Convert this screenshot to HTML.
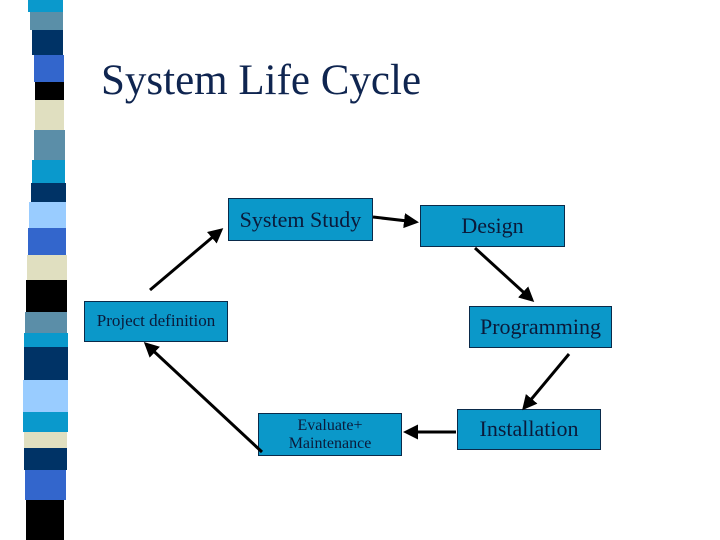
<!DOCTYPE html>
<html><head><meta charset="utf-8"><style>
body{margin:0;width:720px;height:540px;background:#fff;position:relative;overflow:hidden;font-family:"Liberation Serif",serif}
.s{position:absolute;left:27px;width:40px}
.b{position:absolute;background:#0b98c9;border:1px solid #0a2a4a;box-sizing:border-box;color:#0b1a3a;text-align:center;display:flex;align-items:center;justify-content:center;line-height:1.1}
</style></head><body>
<div class="s" style="top:0;height:12px;background:#0a99cc;left:28px;width:35px"></div>
<div class="s" style="top:12px;height:18px;background:#5a8fa8;left:30px;width:33px"></div>
<div class="s" style="top:30px;height:25px;background:#003366;left:32px;width:31px"></div>
<div class="s" style="top:55px;height:27px;background:#3366cc;left:34px;width:30px"></div>
<div class="s" style="top:82px;height:18px;background:#000;left:35px;width:29px"></div>
<div class="s" style="top:100px;height:30px;background:#e0dfc0;left:35px;width:29px"></div>
<div class="s" style="top:130px;height:30px;background:#5b8ea8;left:34px;width:31px"></div>
<div class="s" style="top:160px;height:23px;background:#0a99cc;left:32px;width:33px"></div>
<div class="s" style="top:183px;height:19px;background:#003366;left:31px;width:35px"></div>
<div class="s" style="top:202px;height:26px;background:#99ccff;left:29px;width:37px"></div>
<div class="s" style="top:228px;height:27px;background:#3366cc;left:28px;width:38px"></div>
<div class="s" style="top:255px;height:25px;background:#e0dfc0;left:27px;width:40px"></div>
<div class="s" style="top:280px;height:32px;background:#000;left:26px;width:41px"></div>
<div class="s" style="top:312px;height:21px;background:#5b8ea8;left:25px;width:42px"></div>
<div class="s" style="top:333px;height:14px;background:#0a99cc;left:24px;width:44px"></div>
<div class="s" style="top:347px;height:33px;background:#003366;left:24px;width:44px"></div>
<div class="s" style="top:380px;height:32px;background:#99ccff;left:23px;width:45px"></div>
<div class="s" style="top:412px;height:20px;background:#0a99cc;left:23px;width:45px"></div>
<div class="s" style="top:432px;height:16px;background:#e0dfc0;left:24px;width:43px"></div>
<div class="s" style="top:448px;height:22px;background:#003366;left:24px;width:43px"></div>
<div class="s" style="top:470px;height:30px;background:#3366cc;left:25px;width:41px"></div>
<div class="s" style="top:500px;height:40px;background:#000;left:26px;width:38px"></div>

<div style="position:absolute;left:101px;top:56px;font-size:43px;color:#0f2550">System Life Cycle</div>

<div class="b" style="left:228px;top:198px;width:145px;height:43px;font-size:22px;align-items:flex-start;padding-top:9px">System Study</div>
<div class="b" style="left:420px;top:205px;width:145px;height:42px;font-size:22px">Design</div>
<div class="b" style="left:84px;top:301px;width:144px;height:41px;font-size:17px;align-items:flex-start;padding-top:10px">Project definition</div>
<div class="b" style="left:469px;top:306px;width:143px;height:42px;font-size:22px">Programming</div>
<div class="b" style="left:258px;top:413px;width:144px;height:43px;font-size:16px">Evaluate+<br>Maintenance</div>
<div class="b" style="left:457px;top:409px;width:144px;height:41px;font-size:22px">Installation</div>

<svg width="720" height="540" style="position:absolute;left:0;top:0">
<defs><marker id="a" markerWidth="5" markerHeight="5" refX="4" refY="2.5" orient="auto" markerUnits="strokeWidth"><path d="M0,0 L5,2.5 L0,5 z" fill="#000"/></marker></defs>
<g stroke="#000" stroke-width="3" fill="none" marker-end="url(#a)">
<line x1="150" y1="290" x2="221" y2="230"/>
<line x1="373" y1="217" x2="416" y2="222"/>
<line x1="475" y1="248" x2="532" y2="300"/>
<line x1="569" y1="354" x2="524" y2="408"/>
<line x1="456" y1="432" x2="406" y2="432"/>
<line x1="262" y1="452" x2="146" y2="344"/>
</g>
</svg>
</body></html>
